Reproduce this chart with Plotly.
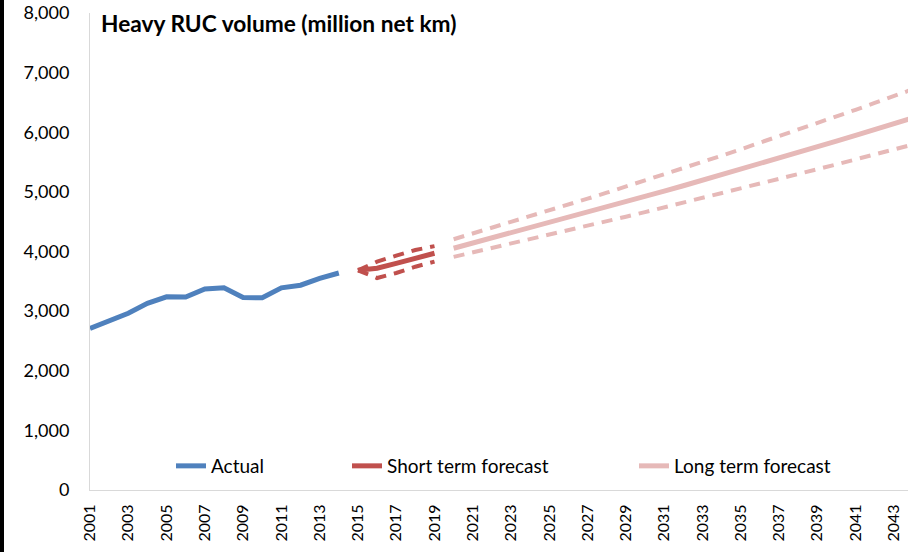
import plotly.graph_objects as go

# ---- data ----
years_actual = list(range(2001, 2015))
actual = [2710, 2840, 2965, 3130, 3240, 3235, 3370, 3390, 3227, 3225, 3390, 3435, 3550, 3640]

years_short = list(range(2015, 2020))
short_mid = [3685, 3720, 3800, 3890, 3970]
short_high = [3685, 3830, 3930, 4025, 4090]
short_low = [3685, 3555, 3640, 3745, 3830]

years_long = list(range(2020, 2045))
long_mid = [4055, 4140, 4226, 4312, 4398, 4484, 4570, 4658, 4746, 4834, 4923, 5012, 5103,
            5194, 5286, 5378, 5471, 5565, 5659, 5754, 5850, 5946, 6043, 6141, 6240]
long_high = [4206, 4301, 4397, 4494, 4591, 4689, 4787, 4886, 4986, 5087, 5189, 5292, 5396,
             5501, 5607, 5714, 5822, 5931, 6041, 6152, 6264, 6377, 6491, 6606, 6722]
long_low = [3910, 3983, 4057, 4131, 4205, 4280, 4355, 4431, 4507, 4584, 4661, 4739, 4817,
            4896, 4975, 5055, 5135, 5216, 5297, 5379, 5461, 5544, 5627, 5711, 5795]

x_ticks = list(range(2001, 2044, 2))
y_ticks = [0, 1000, 2000, 3000, 4000, 5000, 6000, 7000, 8000]
y_tick_text = ["0", "1,000", "2,000", "3,000", "4,000", "5,000", "6,000", "7,000", "8,000"]

BLUE = "#4F81BD"
RED = "#C0504D"
PINK = "#E6B9B8"
FONT = "Lato"
DASH = "11px,8px"

fig = go.Figure()

fig.add_trace(go.Scatter(x=years_actual, y=actual, mode="lines", name="Actual",
                         line=dict(color=BLUE, width=5), legend="legend"))
fig.add_trace(go.Scatter(x=years_short, y=short_high, mode="lines", showlegend=False,
                         line=dict(color=RED, width=4, dash=DASH)))
fig.add_trace(go.Scatter(x=years_short, y=short_low, mode="lines", showlegend=False,
                         line=dict(color=RED, width=4, dash=DASH)))
fig.add_trace(go.Scatter(x=years_short, y=short_mid, mode="lines", name="Short term forecast",
                         line=dict(color=RED, width=5), legend="legend2"))
fig.add_trace(go.Scatter(x=years_long, y=long_high, mode="lines", showlegend=False,
                         line=dict(color=PINK, width=4, dash=DASH)))
fig.add_trace(go.Scatter(x=years_long, y=long_low, mode="lines", showlegend=False,
                         line=dict(color=PINK, width=4, dash=DASH)))
fig.add_trace(go.Scatter(x=years_long, y=long_mid, mode="lines", name="Long term forecast",
                         line=dict(color=PINK, width=5), legend="legend3"))

W, H = 908, 552
ML, MR, MT, MB = 90, 0, 13, 62
PW = W - ML - MR
PH = H - MT - MB

def px_x(p):
    return (p - ML) / PW

def px_y(p):
    return (H - MB - p) / PH

leg_common = dict(orientation="h", xanchor="left", yanchor="middle",
                  font=dict(family=FONT, size=19, color="#000"),
                  bgcolor="rgba(0,0,0,0)", borderwidth=0, itemwidth=30,
                  tracegroupgap=0)

fig.update_layout(
    width=W, height=H,
    margin=dict(l=ML, r=MR, t=MT, b=MB, pad=0, autoexpand=False),
    paper_bgcolor="white", plot_bgcolor="white",
    font=dict(family=FONT, color="#000"),
    legend=dict(x=px_x(171), y=px_y(466), **leg_common),
    legend2=dict(x=px_x(347), y=px_y(466), **leg_common),
    legend3=dict(x=px_x(634), y=px_y(466), **leg_common),
    xaxis=dict(range=[2001, 2043.74], tickmode="array", tickvals=x_ticks,
               ticktext=[str(v) for v in x_ticks], tickangle=-90, automargin=False,
               showgrid=False, zeroline=False, showline=True, linecolor="#D9D9D9",
               linewidth=1, ticks="", ticklabelstandoff=7,
               tickfont=dict(family=FONT, size=16, color="#000")),
    yaxis=dict(range=[0, 8000], tickmode="array", tickvals=y_ticks, ticktext=y_tick_text,
               automargin=False, showgrid=False, zeroline=False, showline=True,
               linecolor="#D9D9D9", linewidth=1, ticks="", ticklabelstandoff=16,
               tickfont=dict(family=FONT, size=18, color="#000")),
    annotations=[dict(text="<b>Heavy RUC volume (million net km)</b>", xref="paper", yref="paper",
                      x=px_x(99), y=px_y(23), xanchor="left", yanchor="middle", showarrow=False,
                      font=dict(family=FONT, size=22.7, color="#000"))],
    shapes=[dict(type="rect", xref="paper", yref="paper", x0=px_x(0), x1=px_x(4),
                 y0=px_y(H), y1=px_y(0), fillcolor="#000", line=dict(width=0), layer="above")],
)

fig.write_html("out.html", config={"displayModeBar": False},
               post_script="document.body.style.margin='0';")
